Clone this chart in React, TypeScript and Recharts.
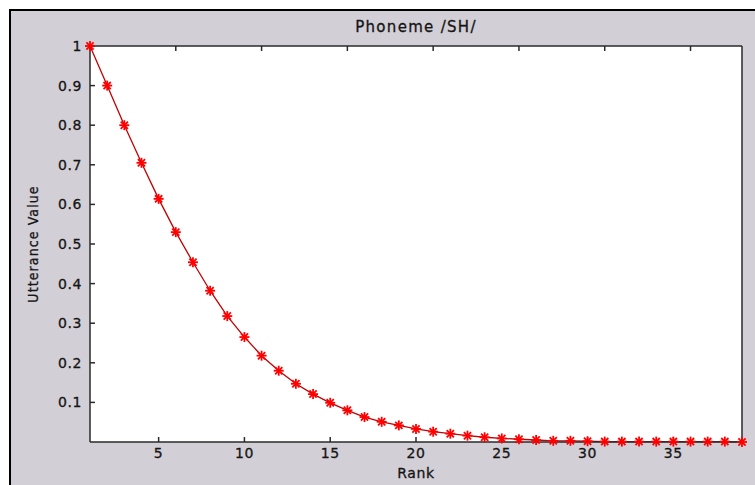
import { LineChart, Line, XAxis, YAxis, CartesianGrid, Label } from 'recharts'

const ranks = [
  1, 2, 3, 4, 5, 6, 7, 8, 9, 10, 11, 12, 13, 14, 15, 16, 17, 18, 19, 20,
  21, 22, 23, 24, 25, 26, 27, 28, 29, 30, 31, 32, 33, 34, 35, 36, 37, 38, 39,
]

const utterance = [
  1.0, 0.9, 0.8, 0.705, 0.614, 0.53, 0.454, 0.382, 0.318, 0.265, 0.218, 0.18,
  0.147, 0.121, 0.099, 0.08, 0.063, 0.051, 0.042, 0.033, 0.026, 0.021, 0.016,
  0.012, 0.009, 0.007, 0.005, 0.003, 0.003, 0.002, 0.001, 0.001, 0.001, 0.001,
  0.001, 0.001, 0.001, 0.001, 0.0,
]

const xTicks = [5, 10, 15, 20, 25, 30, 35]
const yTicks = [0.1, 0.2, 0.3, 0.4, 0.5, 0.6, 0.7, 0.8, 0.9, 1]

const data = ranks.map((rank, i) => ({ rank, value: utterance[i] }))

const FONT = '"DejaVu Sans", Verdana, sans-serif'
const BG = '#d3cfd6'
const AXIS = '#2a2a2a'

const tickStyle = {
  fontFamily: FONT,
  fontSize: 14,
  fill: '#151515',
  stroke: '#151515',
  strokeWidth: 0.3,
  letterSpacing: 0.6,
}

function StarDot(props: any) {
  const { cx, cy, index } = props
  if (cx == null || cy == null) return <g key={`s-${index}`} />
  const r = 5
  const d = 3.6
  return (
    <g key={`s-${index}`} stroke="#ff0000" strokeWidth={1.8}>
      <line x1={cx - r} y1={cy} x2={cx + r} y2={cy} />
      <line x1={cx} y1={cy - r} x2={cx} y2={cy + r} />
      <line x1={cx - d} y1={cy - d} x2={cx + d} y2={cy + d} />
      <line x1={cx - d} y1={cy + d} x2={cx + d} y2={cy - d} />
    </g>
  )
}

export default function App() {
  return (
    <div
      style={{
        position: 'fixed',
        left: 0,
        top: 0,
        width: 755,
        height: 485,
        background: BG,
        overflow: 'hidden',
      }}
    >
      {/* white margin + black frame on top/left only */}
      <div style={{ position: 'absolute', left: 0, top: 0, width: 755, height: 9, background: '#fff' }} />
      <div style={{ position: 'absolute', left: 0, top: 0, width: 9, height: 485, background: '#fff' }} />
      <div style={{ position: 'absolute', left: 9, top: 9, width: 746, height: 2, background: '#000' }} />
      <div style={{ position: 'absolute', left: 9, top: 9, width: 2, height: 476, background: '#000' }} />
      <div
        style={{
          position: 'absolute',
          left: 296,
          width: 240,
          top: 18,
          textAlign: 'center',
          fontFamily: FONT,
          fontSize: 15,
          lineHeight: '18px',
          letterSpacing: 1.3,
          color: '#151515',
          WebkitTextStroke: '0.3px #151515',
        }}
      >
        Phoneme /SH/
      </div>
      <LineChart
        width={755}
        height={485}
        data={data}
        accessibilityLayer={false}
        margin={{ top: 36, right: 3, bottom: 13, left: 50 }}
        style={{ position: 'absolute', left: 0, top: 0 }}
      >
        <CartesianGrid horizontal={false} vertical={false} fill="#ffffff" xAxisId="b" yAxisId="l" />
        <XAxis
          xAxisId="b"
          dataKey="rank"
          type="number"
          domain={[1, 39]}
          ticks={xTicks}
          height={30}
          tickSize={-5}
          tickMargin={11}
          axisLine={{ stroke: AXIS, strokeWidth: 1.5 }}
          tickLine={{ stroke: AXIS, strokeWidth: 1.5 }}
          tick={tickStyle}
        >
          <Label value="Rank" position="insideBottom" offset={-6} style={tickStyle} />
        </XAxis>
        <XAxis
          xAxisId="t"
          orientation="top"
          type="number"
          domain={[1, 39]}
          ticks={xTicks}
          height={10}
          tickSize={-5}
          tickFormatter={() => ''}
          axisLine={{ stroke: AXIS, strokeWidth: 1.5 }}
          tickLine={{ stroke: AXIS, strokeWidth: 1.5 }}
        />
        <YAxis
          yAxisId="l"
          type="number"
          domain={[0, 1]}
          ticks={yTicks}
          width={40}
          tickSize={-5}
          tickMargin={13}
          axisLine={{ stroke: AXIS, strokeWidth: 1.5 }}
          tickLine={{ stroke: AXIS, strokeWidth: 1.5 }}
          tick={tickStyle}
        >
          <Label
            value="Utterance Value"
            position="left"
            angle={-90}
            offset={17}
            style={{
              fontFamily: '"DejaVu Sans Condensed", "DejaVu Sans", sans-serif',
              fontSize: 14,
              letterSpacing: 1.1,
              fill: '#151515',
              stroke: '#151515',
              strokeWidth: 0.3,
              textAnchor: 'middle',
            }}
          />
        </YAxis>
        <YAxis
          yAxisId="r"
          orientation="right"
          type="number"
          domain={[0, 1]}
          ticks={yTicks}
          width={10}
          tickSize={-5}
          tickFormatter={() => ''}
          axisLine={{ stroke: AXIS, strokeWidth: 1.5 }}
          tickLine={{ stroke: AXIS, strokeWidth: 1.5 }}
        />
        <Line
          xAxisId="b"
          yAxisId="l"
          type="linear"
          dataKey="value"
          stroke="#c40000"
          strokeWidth={1.3}
          dot={StarDot}
          activeDot={false}
          isAnimationActive={false}
        />
      </LineChart>
    </div>
  )
}
